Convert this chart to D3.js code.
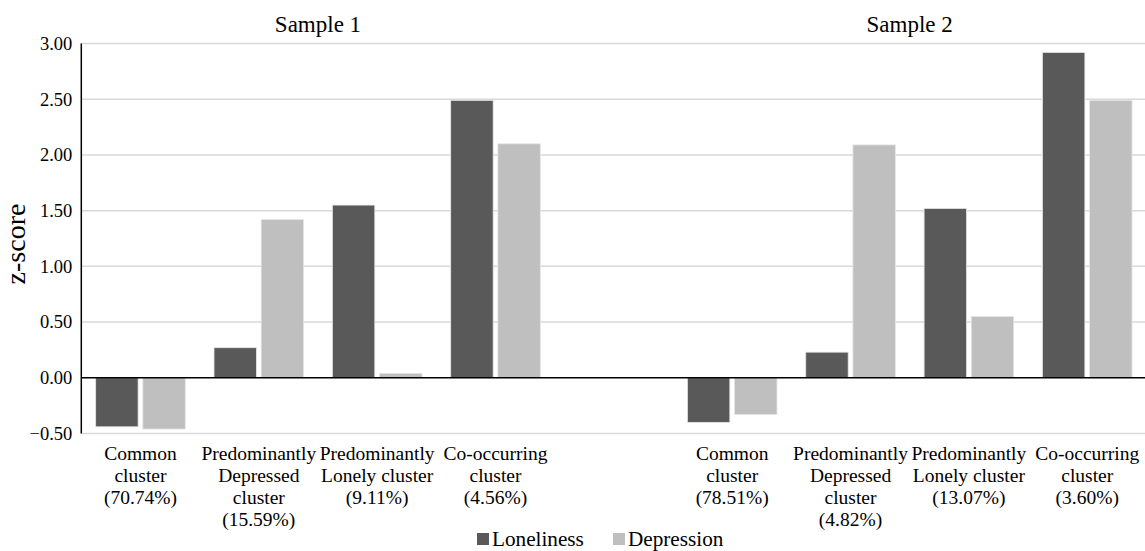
<!DOCTYPE html>
<html>
<head>
<meta charset="utf-8">
<script src="https://cdn.jsdelivr.net/npm/d3@7"></script>
<style>
  html, body { margin: 0; padding: 0; background: #fff; }
  svg { display: block; }
  svg text { font-family: 'Liberation Serif', 'Tinos', 'Times New Roman', 'DejaVu Serif', serif !important; }
</style>
</head>
<body>
<svg id="chart" width="1145" height="551"></svg>
<script>
// ---- data ----
const categoryIds = ["s1_common", "s1_dep", "s1_lonely", "s1_co", "gap", "s2_common", "s2_dep", "s2_lonely", "s2_co"];
const categoryLabels = [
  ["Common", "cluster", "(70.74%)"],
  ["Predominantly", "Depressed", "cluster", "(15.59%)"],
  ["Predominantly", "Lonely cluster", "(9.11%)"],
  ["Co-occurring", "cluster", "(4.56%)"],
  [],
  ["Common", "cluster", "(78.51%)"],
  ["Predominantly", "Depressed", "cluster", "(4.82%)"],
  ["Predominantly", "Lonely cluster", "(13.07%)"],
  ["Co-occurring", "cluster", "(3.60%)"]
];
const seriesNames = ["Loneliness", "Depression"];
const loneliness = [-0.44, 0.27, 1.55, 2.49, null, -0.40, 0.23, 1.52, 2.92];
const depression = [-0.46, 1.42, 0.04, 2.10, null, -0.33, 2.09, 0.55, 2.49];
const yTicks = [-0.5, 0, 0.5, 1, 1.5, 2, 2.5, 3];
const panelTitles = ["Sample 1", "Sample 2"];
const panelCategories = [["s1_common", "s1_co"], ["s2_common", "s2_co"]];
const seriesColors = ["#595959", "#bfbfbf"];

// ---- layout ----
(function () {
const svg = d3.select("#chart");
const plotLeft = 81.3, plotRight = 1146.4, plotTop = 43.5, plotBottom = 433.5;

const x0 = d3.scaleBand().domain(categoryIds).range([plotLeft, plotRight]).padding(0);
const groupW = 89.6;
const x1 = d3.scaleBand().domain(seriesNames).range([0, groupW]).paddingInner(0.1);
const y = d3.scaleLinear().domain([-0.5, 3]).range([plotBottom, plotTop]);

// gridlines
svg.append("g")
  .selectAll("line")
  .data(yTicks.filter(t => t !== 0))
  .join("line")
  .attr("x1", plotLeft).attr("x2", 1145)
  .attr("y1", d => y(d)).attr("y2", d => y(d))
  .attr("stroke", "#d9d9d9").attr("stroke-width", 1.5);

// y axis labels
const yAxis = d3.axisLeft(y).tickValues(yTicks).tickFormat(d3.format(".2f")).tickSize(0).tickPadding(9);
const yg = svg.append("g").attr("transform", `translate(${plotLeft},0)`).call(yAxis);
yg.select(".domain").remove();
yg.attr("font-family", null).attr("font-size", null);
yg.selectAll("text")
  .attr("font-size", 18.5).attr("fill", "#000");

// bars
const rows = categoryIds.map((id, i) => ({ id, vals: [loneliness[i], depression[i]] }));
const groups = svg.append("g").selectAll("g")
  .data(rows)
  .join("g")
  .attr("transform", d => `translate(${x0(d.id) + (x0.bandwidth() - groupW) / 2},0)`);
groups.selectAll("rect")
  .data(d => d.vals.map((v, j) => ({ v, s: seriesNames[j], j })).filter(e => e.v !== null))
  .join("rect")
  .attr("x", d => x1(d.s))
  .attr("width", x1.bandwidth())
  .attr("y", d => y(Math.max(0, d.v)))
  .attr("height", d => Math.abs(y(d.v) - y(0)))
  .attr("fill", d => seriesColors[d.j])
  .attr("stroke", "#e6e6e6").attr("stroke-width", 0.8);

// axis lines
svg.append("line")
  .attr("x1", plotLeft).attr("x2", 1145)
  .attr("y1", y(0)).attr("y2", y(0))
  .attr("stroke", "#000").attr("stroke-width", 1.5);
svg.append("line")
  .attr("x1", plotLeft).attr("x2", plotLeft)
  .attr("y1", plotTop).attr("y2", plotBottom)
  .attr("stroke", "#000").attr("stroke-width", 1.5);

// category labels
const lab = svg.append("g").selectAll("text")
  .data(rows.map((r, i) => ({ id: r.id, lines: categoryLabels[i] })))
  .join("text")
  .attr("text-anchor", "middle")
  .attr("font-size", 19.5)
  .attr("fill", "#000");
lab.selectAll("tspan")
  .data(d => d.lines.map(l => ({ l, id: d.id })))
  .join("tspan")
  .attr("x", d => x0(d.id) + x0.bandwidth() / 2)
  .attr("y", (d, i) => 460 + i * 22)
  .text(d => d.l);

// panel titles
svg.append("g").selectAll("text")
  .data(panelTitles.map((t, i) => ({ t, c: panelCategories[i] })))
  .join("text")
  .attr("x", d => (x0(d.c[0]) + x0(d.c[1]) + x0.bandwidth()) / 2)
  .attr("y", 31.5)
  .attr("text-anchor", "middle")
  .attr("font-size", 23)
  .attr("fill", "#000")
  .text(d => d.t);

// y title
svg.append("text")
  .attr("transform", "translate(25,244) rotate(-90)")
  .attr("text-anchor", "middle")
  .attr("font-size", 28)
  .attr("fill", "#000")
  .text("z-score");

// legend
const legendX = [477, 613];
const leg = svg.append("g").selectAll("g")
  .data(seriesNames.map((s, i) => ({ s, i })))
  .join("g")
  .attr("transform", d => `translate(${legendX[d.i]},0)`);
leg.append("rect")
  .attr("x", 0).attr("y", 533).attr("width", 12).attr("height", 12)
  .attr("fill", d => seriesColors[d.i]);
leg.append("text")
  .attr("x", 15).attr("y", 545.5)
  .attr("font-size", 21.2)
  .attr("fill", "#000")
  .text(d => d.s);
})();
</script>
</body>
</html>
